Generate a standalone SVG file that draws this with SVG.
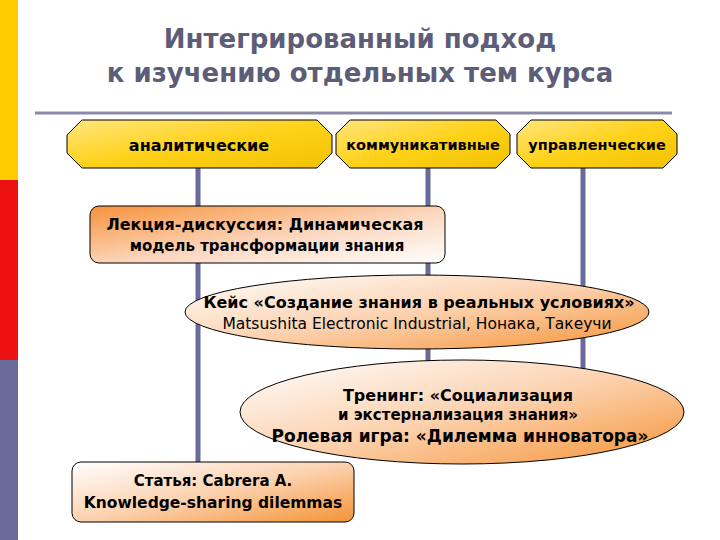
<svg xmlns="http://www.w3.org/2000/svg" width="720" height="540" viewBox="0 0 720 540">
<defs>
<linearGradient id="gy" x1="0" y1="0" x2="1" y2="1"><stop offset="0" stop-color="#ffe680"/><stop offset="0.5" stop-color="#ffd21a"/><stop offset="1" stop-color="#f2c200"/></linearGradient>
<linearGradient id="go" x1="0" y1="0" x2="1" y2="1"><stop offset="0" stop-color="#f7923a"/><stop offset="0.55" stop-color="#fcd7bf"/><stop offset="1" stop-color="#ffffff"/></linearGradient>
<linearGradient id="go2" x1="0" y1="0" x2="1" y2="1"><stop offset="0" stop-color="#ffffff"/><stop offset="0.5" stop-color="#fcd2b0"/><stop offset="1" stop-color="#f59335"/></linearGradient>
<style>
.t{font-family:"DejaVu Sans",sans-serif;font-weight:bold;fill:#000;text-anchor:middle}
.n{font-family:"DejaVu Sans",sans-serif;fill:#000;text-anchor:middle}
.oct{fill:url(#gy);stroke:#000;stroke-width:1}
.v{stroke:#6b6b9b;stroke-width:5}
</style>
</defs>
<rect x="0" y="0" width="18" height="180" fill="#ffcc00"/>
<rect x="0" y="180" width="18" height="180" fill="#ee1111"/>
<rect x="0" y="360" width="18" height="180" fill="#6a6a9a"/>
<g id="title" font-family="DejaVu Sans,sans-serif" font-weight="bold" font-size="26" fill="#5d5d78" text-anchor="middle">
<text x="360" y="48">Интегрированный подход</text>
<text x="360" y="82">к изучению отдельных тем курса</text>
</g>
<line x1="35" y1="113" x2="672" y2="113" stroke="#8a8aa6" stroke-width="3"/>
<g id="connectors">
<line class="v" x1="198" y1="168" x2="198" y2="465"/>
<line class="v" x1="428" y1="168" x2="428" y2="380"/>
<line class="v" x1="583" y1="168" x2="583" y2="375"/>
</g>
<g id="analytic"><polygon class="oct" points="82,120 317,120 332,135 332,153 317,168 82,168 67,153 67,135"/><text class="t" x="199" y="151" font-size="16">аналитические</text></g>
<g id="comm"><polygon class="oct" points="350,120 496,120 510,134 510,154 496,168 350,168 336,154 336,134"/><text class="t" x="423" y="150" font-size="14.5">коммуникативные</text></g>
<g id="manage"><polygon class="oct" points="531,120 663,120 677,134 677,154 663,168 531,168 517,154 517,134"/><text class="t" x="597" y="150" font-size="14.5">управленческие</text></g>
<g id="lecture"><rect x="90" y="206" width="355" height="57" rx="9" fill="url(#go)" stroke="#000"/>
<text class="t" x="265" y="230" font-size="16">Лекция-дискуссия: Динамическая</text>
<text class="t" x="267" y="251" font-size="15">модель трансформации знания</text></g>
<g id="case"><ellipse cx="417" cy="312" rx="232" ry="37" fill="url(#go2)" stroke="#000"/>
<text class="t" x="419" y="308" font-size="16">Кейс «Создание знания в реальных условиях»</text>
<text class="n" x="417" y="329" font-size="15.5">Matsushita Electronic Industrial, Нонака, Такеучи</text></g>
<g id="training"><ellipse cx="462" cy="412" rx="222" ry="52" fill="url(#go2)" stroke="#000"/>
<text class="t" x="458" y="401" font-size="16">Тренинг: «Социализация</text>
<text class="t" x="458" y="420" font-size="15">и экстернализация знания»</text>
<text class="t" x="460" y="442" font-size="17">Ролевая игра: «Дилемма инноватора»</text></g>
<g id="article"><rect x="72" y="462" width="282" height="60" rx="9" fill="url(#go2)" stroke="#000"/>
<text class="t" x="213" y="486" font-size="15">Статья: Cabrera A.</text>
<text class="t" x="213" y="508" font-size="15.5">Knowledge-sharing dilemmas</text></g>
</svg>
